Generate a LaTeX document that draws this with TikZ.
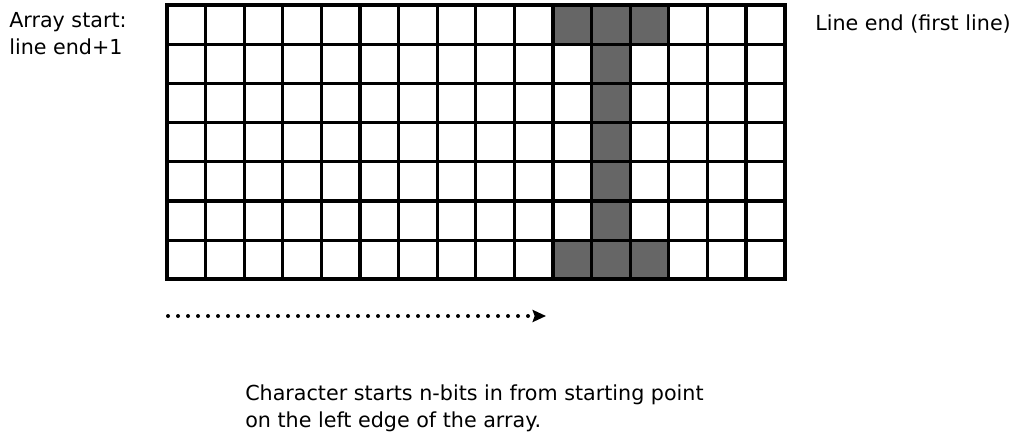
\documentclass[tikz,border=0pt]{standalone}
\usepackage{fontspec}
\setmainfont{DejaVu Sans}
\usetikzlibrary{arrows.meta}
\begin{document}
\begin{tikzpicture}[x=0.75pt,y=-0.75pt,
  gridline/.style={draw=black,line width=2.3pt},
  border/.style={draw=black,line width=2.9pt},
  shadecell/.style={fill=black!60},
  lbl/.style={anchor=base west,inner sep=0pt,font=\fontsize{15.5}{18}\selectfont},
  dotline/.style={line width=3pt,line cap=round,dash pattern=on 0pt off 7.5pt,
    -{Stealth[length=10pt,width=9pt,inset=1.5pt]}}]
\useasboundingbox (0,0) rectangle (1024,435);
\def\cw{38.6}
\def\ch{39.2}
% shaded cells of the character
\foreach \c/\r in {10/0,11/0,12/0,11/1,11/2,11/3,11/4,11/5,10/6,11/6,12/6}
  \fill[shadecell] ({167+\c*\cw},{5+\r*\ch}) rectangle ++(\cw,\ch);
% grid lines
\foreach \i in {1,...,15}
  \draw[gridline] ({167+\i*\cw},5) -- ({167+\i*\cw},{5+7*\ch});
\foreach \j in {1,...,6}
  \draw[gridline] (167,{5+\j*\ch}) -- ({167+16*\cw},{5+\j*\ch});
\draw[border] (167,5) rectangle ({167+16*\cw},{5+7*\ch});
% labels
\node[lbl] (start1) at (9,28) {Array start:};
\node[lbl] (start2) at (9,55) {line end+1};
\node[lbl] (lineend) at (815,31) {Line end (first line)};
\node[lbl] (note1) at (245,400) {Character starts n-bits in from starting point};
\node[lbl] (note2) at (245,427) {on the left edge of the array.};
% dotted arrow
\coordinate (a0) at (168,316);
\coordinate (a1) at (546,316);
\draw[dotline] (a0) -- (a1);
\end{tikzpicture}
\end{document}
